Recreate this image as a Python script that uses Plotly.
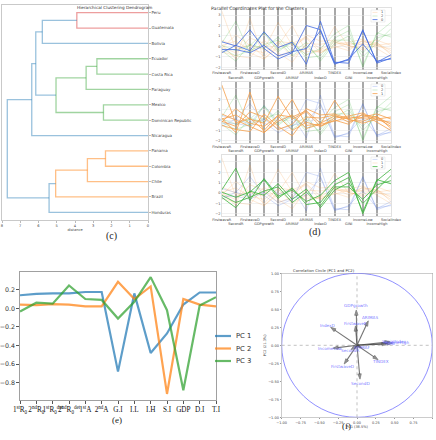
import plotly.graph_objects as go

W, H = 436, 440

# ---------------- (c) dendrogram data ----------------
leaf_labels = ["Honduras", "Brazil", "Chile", "Colombia", "Panama", "Nicaragua",
               "Dominican Republic", "Mexico", "Paraguay", "Costa Rica", "Ecuador",
               "Bolivia", "Guatemala", "Peru"]
merge_left = ["Peru", "m1", "Ecuador", "m3", "Mexico", "m4", "m2", "m7",
              "Panama", "m9", "m10", "m11", "m8"]
merge_right = ["Guatemala", "Bolivia", "Costa Rica", "Paraguay", "Dominican Republic",
               "m5", "m6", "Nicaragua", "Colombia", "Chile", "Brazil", "Honduras", "m12"]
merge_dist = [3.90, 5.79, 2.80, 3.39, 2.44, 5.04, 6.15, 6.37, 2.33, 3.32, 5.06, 5.42, 7.71]
merge_color = ["red", "blue", "green", "green", "green", "green", "blue", "blue",
               "orange", "orange", "orange", "blue", "blue"]
dist_ticks = [0, 1, 2, 3, 4, 5, 6, 7, 8]

# ---------------- (d) parallel coordinates data ----------------
features = ["FirstwaveR", "SecondR", "FirstwaveD", "GDPgrowth", "SecondD", "ARIMAF",
            "ARIMAS", "IndexD", "TINDEX", "GINI", "IncomeLow", "IncomeHigh", "SocialIndex"]
cluster_ids = [0, 0, 0, 1, 1, 1, 1, 1, 1, 1, 2, 2, 2, 2]
par_B1 = [0.45, 0.05, 1.6, -0.2, -1.2, -0.6, 2.0, 1.6, -1.6, -1.3, 1.5, -1.5, -0.8]
par_B2 = [-0.6, 0.1, -0.4, 1.4, -0.1, 0.4, -1.7, 2.4, -1.5, -1.6, 1.6, -1.6, -1.1]
par_B3 = [-0.3, -0.3, -0.6, 0.1, -0.9, -0.5, -0.2, 1.5, -1.7, -1.2, 0.25, -1.4, -1.2]
par_O1 = [3.4, -0.3, 0.2, -1.0, 0.5, 0.3, 0.9, -0.3, 0.4, 0.1, 0.5, 0.3, -0.4]
par_O2 = [0.2, -1.2, 2.7, -1.2, 0.1, 2.0, -0.5, -0.4, 1.9, 0.0, -0.1, 0.4, -0.8]
par_O3 = [-0.2, 1.1, 0.1, -0.3, 2.3, 0.1, 0.8, -0.6, 0.2, 0.4, 0.7, 0.0, -0.2]
par_O4 = [-0.5, -0.9, -1.1, 0.6, -0.6, -1.5, 0.3, 0.2, 0.5, -0.2, 0.3, 0.6, 0.1]
par_O5 = [0.6, 0.0, -0.6, -1.2, -0.1, 0.5, -0.8, -0.4, -0.1, 0.3, 0.2, 0.2, -0.6]
par_O6 = [-0.1, -0.6, 0.8, 0.3, -0.9, -0.4, 1.1, 0.5, 0.6, 0.1, -0.3, 0.1, 0.3]
par_O7 = [0.1, 0.5, -0.3, -0.6, 0.4, -1.0, -0.2, -0.6, 0.0, -0.4, 0.6, -0.2, -1.0]
par_G1 = [0.3, 2.4, -0.7, 1.4, -0.3, 0.3, -0.8, -0.2, 1.2, 2.0, -2.0, 1.2, 2.3]
par_G2 = [-0.4, -1.4, 0.2, -0.2, 0.9, -0.6, 0.4, -1.4, 0.3, 1.0, -1.0, 0.4, 1.7]
par_G3 = [0.1, -0.4, 0.1, 1.3, -0.5, 0.5, -1.1, -0.9, 0.8, 1.5, -1.8, 1.3, 0.9]
par_G4 = [-0.2, -0.9, -0.4, 0.2, 0.6, -0.9, 0.1, -1.2, 0.6, 0.6, -0.6, 0.8, 1.2]
par_values = [par_B1, par_B2, par_B3, par_O1, par_O2, par_O3, par_O4, par_O5,
              par_O6, par_O7, par_G1, par_G2, par_G3, par_G4]
cluster_names = ["0", "1", "2"]

# ---------------- (e) PC loadings data ----------------
pc_labels = ["1<sup>st</sup>R<sub>0</sub>", "2<sup>nd</sup>R<sub>0</sub>",
             "1<sup>st</sup>R<sub>0</sub><sup>det</sup>", "2<sup>nd</sup>R<sub>0</sub><sup>det</sup>",
             "1<sup>st</sup>A", "2<sup>nd</sup>A", "G.I", "I.L", "I.H", "S.I", "GDP", "D.I", "T.I"]
pc1_vals = [0.14, 0.155, 0.16, 0.16, 0.175, 0.175, -0.68, 0.16, -0.48, -0.27, 0.04, 0.17, 0.17]
pc2_vals = [0.04, 0.035, 0.045, 0.04, 0.02, 0.02, 0.285, 0.10, 0.235, -0.92, 0.10, 0.04, 0.02]
pc3_vals = [-0.035, 0.06, 0.05, 0.245, 0.10, 0.09, -0.11, 0.07, 0.335, -0.02, -0.88, 0.03, 0.12]
pc_names = ["PC 1", "PC 2", "PC 3"]
pc_ticks = [0.2, 0.0, -0.2, -0.4, -0.6, -0.8]

# ---------------- (f) correlation circle data ----------------
circle_feats = ["FirstwaveR", "SecondR", "FirstwaveD", "GDPgrowth", "SecondD", "ARIMAF",
                "ARIMAS", "IndexD", "TINDEX", "GINI", "IncomeLow", "IncomeHigh", "SocialIndex"]
load_pc1 = [-0.02, -0.08, -0.17, -0.01, 0.04, 0.06, 0.15, -0.35, 0.28, 0.40, -0.32, 0.47, 0.44]
load_pc2 = [0.27, -0.06, -0.26, 0.49, -0.47, -0.03, 0.34, 0.25, -0.20, 0.02, -0.04, 0.03, 0.05]
circ_ticks = [-1.0, -0.75, -0.5, -0.25, 0.0, 0.25, 0.5, 0.75, 1.0]

# =====================================================
def fx(p):
    return p / W


def fy(p):
    return 1 - p / H


fig = go.Figure()
annotations = []
shapes = []

# ---- (c) ----
dendro_col = {"red": "rgba(214,39,40,0.45)", "blue": "rgba(31,119,180,0.45)",
              "green": "rgba(44,160,44,0.45)", "orange": "rgba(255,127,14,0.5)"}
pos = {name: (0.0, 5 + 10 * i) for i, name in enumerate(leaf_labels)}
for k in range(len(merge_dist)):
    xl, yl = pos[merge_left[k]]
    xr, yr = pos[merge_right[k]]
    d = merge_dist[k]
    fig.add_trace(go.Scatter(x=[xl, d, d, xr], y=[yl, yl, yr, yr], mode="lines",
                             line=dict(color=dendro_col[merge_color[k]], width=1.3),
                             xaxis="x", yaxis="y", showlegend=False, hoverinfo="skip"))
    pos["m%d" % (k + 1)] = (d, (yl + yr) / 2)

# ---- (d) ----
clus_rgb = {0: "65,105,225", 1: "245,160,75", 2: "60,180,60"}
n = len(par_values)
par_tops = [8, 82, 155]
par_bots = [69.5, 143, 216]
for p, hl in enumerate([0, 1, 2]):
    order = [i for i in range(n) if cluster_ids[i] != hl] + [i for i in range(n) if cluster_ids[i] == hl]
    for i in order:
        a = 1.0 if cluster_ids[i] == hl else 0.28
        fig.add_trace(go.Scatter(x=features, y=par_values[i], mode="lines",
                                 line=dict(color="rgba(%s,%s)" % (clus_rgb[cluster_ids[i]], a), width=0.8),
                                 xaxis="x%d" % (p + 2), yaxis="y%d" % (p + 2),
                                 showlegend=False, hoverinfo="skip"))
    leg_order = []
    for i in order:
        if cluster_ids[i] not in leg_order:
            leg_order.append(cluster_ids[i])
    top = par_tops[p] + 2
    shapes.append(dict(type="rect", xref="paper", yref="paper", x0=fx(371), x1=fx(385),
                       y0=fy(top + 12), y1=fy(top), line=dict(color="#dddddd", width=0.5),
                       fillcolor="white"))
    for j, c in enumerate(leg_order):
        yy = top + 2.4 + j * 3.6
        a = 1.0 if c == hl else 0.3
        shapes.append(dict(type="line", xref="paper", yref="paper", x0=fx(372.5), x1=fx(377.5),
                           y0=fy(yy), y1=fy(yy),
                           line=dict(color="rgba(%s,%s)" % (clus_rgb[c], a), width=0.8)))
        annotations.append(dict(text=cluster_names[c], xref="paper", yref="paper", x=fx(379),
                                y=fy(yy), xanchor="left", yanchor="middle", showarrow=False,
                                font=dict(size=3.5, color="#444")))

# ---- (e) ----
pc_cols = ["rgba(31,119,180,0.72)", "rgba(255,127,14,0.72)", "rgba(44,160,44,0.72)"]
for vals, col, nm in zip([pc1_vals, pc2_vals, pc3_vals], pc_cols, pc_names):
    fig.add_trace(go.Scatter(x=pc_labels, y=vals, mode="lines", name=nm,
                             line=dict(color=col, width=2.2), xaxis="x5", yaxis="y5",
                             showlegend=False, hoverinfo="skip"))
for j, (col, nm) in enumerate(zip(pc_cols, pc_names)):
    yy = 336 + j * 12.5
    shapes.append(dict(type="line", xref="paper", yref="paper", x0=fx(215), x1=fx(231),
                       y0=fy(yy), y1=fy(yy), line=dict(color=col, width=2.2)))
    annotations.append(dict(text=nm, xref="paper", yref="paper", x=fx(233.5), y=fy(yy),
                            xanchor="left", yanchor="middle", showarrow=False,
                            font=dict(size=6.8, color="#333", family="DejaVu Sans")))

# ---- (f) ----
shapes.append(dict(type="circle", xref="x6", yref="y6", x0=-1, y0=-1, x1=1, y1=1,
                   line=dict(color="rgba(90,90,255,0.75)", width=0.9)))
shapes.append(dict(type="line", xref="x6", yref="y6", x0=-1, x1=1, y0=0, y1=0,
                   line=dict(color="#999999", width=0.6, dash="dot")))
shapes.append(dict(type="line", xref="x6", yref="y6", x0=0, x1=0, y0=-1, y1=1,
                   line=dict(color="#999999", width=0.6, dash="dot")))
for nm, a, b in zip(circle_feats, load_pc1, load_pc2):
    fig.add_trace(go.Scatter(x=[0, a], y=[0, b], mode="lines+markers",
                             line=dict(color="rgba(70,70,70,0.75)", width=1.1),
                             marker=dict(symbol=["circle", "arrow"], size=[0, 5.5],
                                         angleref="previous", color="rgba(70,70,70,0.85)"),
                             xaxis="x6", yaxis="y6", showlegend=False, hoverinfo="skip"))
    annotations.append(dict(x=a * 1.12, y=b * 1.12, xref="x6", yref="y6", text=nm,
                            showarrow=False, xanchor="center", yanchor="middle",
                            font=dict(size=4.2, color="rgba(100,100,255,0.9)")))

# ---- titles and panel labels ----
annotations += [
    dict(text="Hierarchical Clustering Dendrogram", x=fx(75), y=fy(3.5), xref="paper", yref="paper",
         showarrow=False, font=dict(size=4.2, color="#333")),
    dict(text="Parallel Coordinates Plot for the Clusters", x=fx(306), y=fy(4), xref="paper",
         yref="paper", showarrow=False, font=dict(size=4.6, color="#333")),
    dict(text="Correlation Circle (PC1 and PC2)", x=fx(357), y=fy(270.5), xref="paper", yref="paper",
         showarrow=False, font=dict(size=3.8, color="#333")),
    dict(text="(c)", x=fx(104), y=fy(236), xref="paper", yref="paper", showarrow=False,
         font=dict(size=10, family="Liberation Serif", color="#222")),
    dict(text="(d)", x=fx(323), y=fy(232), xref="paper", yref="paper", showarrow=False,
         font=dict(size=10, family="Liberation Serif", color="#222")),
    dict(text="(e)", x=fx(110), y=fy(427), xref="paper", yref="paper", showarrow=False,
         font=dict(size=9, family="Liberation Serif", color="#222")),
    dict(text="(f)", x=fx(353), y=fy(433), xref="paper", yref="paper", showarrow=False,
         font=dict(size=9, family="Liberation Serif", color="#222")),
]

small = dict(size=3.6, color="#444")
frame = dict(showline=True, mirror=True, linecolor="#bbbbbb", linewidth=0.8, zeroline=False,
             automargin=False)

layout = dict(
    width=W, height=H, margin=dict(l=0, r=0, t=0, b=0, autoexpand=False),
    paper_bgcolor="white", plot_bgcolor="white", showlegend=False,
    font=dict(family="DejaVu Sans", color="#333"),
    annotations=annotations, shapes=shapes,
    xaxis=dict(domain=[fx(2), fx(148)], anchor="y", range=[8, 0], tickvals=dist_ticks,
               ticks="outside", ticklen=2, tickcolor="#bbb", tickfont=small, showgrid=False,
               title=dict(text="distance", font=small, standoff=1), **frame),
    yaxis=dict(domain=[fy(220), fy(5)], anchor="x", range=[0, 140], side="right",
               tickvals=[5 + 10 * i for i in range(len(leaf_labels))], ticktext=leaf_labels,
               ticks="outside", ticklen=2, tickcolor="#bbb", tickfont=dict(size=4, color="#444"),
               showgrid=False, **frame),
)
alt_text = [f if i % 2 == 0 else "<br>" + f for i, f in enumerate(features)]
for p in range(3):
    k = p + 2
    layout["xaxis%d" % k] = dict(domain=[fx(221.7), fx(391)], anchor="y%d" % k, range=[0, 12],
                                 tickvals=features, ticktext=alt_text, ticks="", tickangle=0,
                                 tickfont=dict(size=3.5, color="#444"), showgrid=True,
                                 gridcolor="#a8a8a8", gridwidth=2, showline=True, mirror=True,
                                 linecolor="#cccccc", linewidth=0.6, zeroline=False,
                                 automargin=False)
    layout["yaxis%d" % k] = dict(domain=[fy(par_bots[p]), fy(par_tops[p])], anchor="x%d" % k,
                                 range=[-2.2, 3.67], dtick=1, tick0=0, ticks="",
                                 tickfont=dict(size=3.5, color="#444"), showgrid=True,
                                 gridcolor="#e4e4e4", gridwidth=0.5, showline=True, mirror=True,
                                 linecolor="#cccccc", linewidth=0.6, zeroline=False,
                                 automargin=False)
layout["xaxis5"] = dict(domain=[fx(20), fx(216)], anchor="y5", type="category", range=[0, 12],
                        ticks="outside", ticklen=3, tickcolor="#555",
                        tickfont=dict(size=7.2, family="Liberation Serif", color="#111"),
                        showgrid=False, showline=True, mirror=True, linecolor="#888",
                        linewidth=0.8, zeroline=False, tickangle=0, automargin=False)
layout["yaxis5"] = dict(domain=[fy(400), fy(272)], anchor="x5", range=[-0.985, 0.39],
                        tickvals=pc_ticks, tickformat=".1f", ticks="outside", ticklen=3,
                        tickcolor="#555", tickfont=dict(size=6.3, color="#333"), showgrid=False,
                        showline=True, mirror=True, linecolor="#888", linewidth=0.8,
                        zeroline=False, automargin=False)
layout["xaxis6"] = dict(domain=[fx(281.7), fx(432.3)], anchor="y6", range=[-1, 1],
                        tickvals=circ_ticks, tickformat=".2f", ticks="outside", ticklen=1.5,
                        tickcolor="#999", tickfont=dict(size=3.5, color="#444"), showgrid=False,
                        title=dict(text="PC1 (38.5%)", font=dict(size=3.5, color="#444"), standoff=1),
                        showline=True, mirror=True, linecolor="#aaaaaa", linewidth=0.6,
                        zeroline=False, automargin=False)
layout["yaxis6"] = dict(domain=[fy(417.3), fy(273.3)], anchor="x6", range=[-1, 1],
                        tickvals=circ_ticks, tickformat=".2f", ticks="outside", ticklen=1.5,
                        tickcolor="#999", tickfont=dict(size=3.5, color="#444"), showgrid=False,
                        title=dict(text="PC2 (21.3%)", font=dict(size=3.5, color="#444"), standoff=1),
                        showline=True, mirror=True, linecolor="#aaaaaa", linewidth=0.6,
                        zeroline=False, automargin=False)

fig.update_layout(**layout)
fig.write_html("out.html", config={"displayModeBar": False, "staticPlot": True},
               post_script="document.body.style.margin='0';document.body.style.overflow='hidden';")
